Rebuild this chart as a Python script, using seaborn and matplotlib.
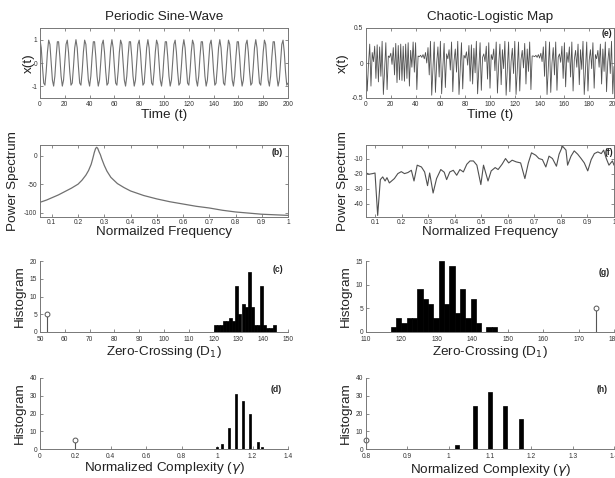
import numpy as np
import pandas as pd
import matplotlib
matplotlib.use("Agg")
import matplotlib.pyplot as plt
from matplotlib.ticker import FormatStrFormatter
import seaborn as sns

sns.set_style("ticks")
plt.rcParams['font.family'] = ['Liberation Sans', 'DejaVu Sans']
plt.rcParams['axes.unicode_minus'] = False
plt.rcParams['xtick.direction'] = 'in'
plt.rcParams['ytick.direction'] = 'in'

# DATA

time_steps = list(range(201))

# periodic sine-wave x(t)
sine_wave = [
    1.00, 0.65, -0.16, -0.86, -0.95, -0.37, 0.47, 0.98, 0.80, 0.05, -0.73, -0.99, -0.56, 0.27, 0.91,
    0.91, 0.27, -0.56, -0.99, -0.73, 0.05, 0.80, 0.98, 0.47, -0.37, -0.95, -0.86, -0.16, 0.65,
    1.00, 0.65, -0.16, -0.86, -0.95, -0.37, 0.47, 0.98, 0.80, 0.05, -0.73, -0.99, -0.56, 0.27, 0.91,
    0.91, 0.27, -0.56, -0.99, -0.73, 0.05, 0.80, 0.98, 0.47, -0.37, -0.95, -0.86, -0.16, 0.65,
    1.00, 0.65, -0.16, -0.86, -0.95, -0.37, 0.47, 0.98, 0.80, 0.05, -0.73, -0.99, -0.56, 0.27, 0.91,
    0.91, 0.27, -0.56, -0.99, -0.73, 0.05, 0.80, 0.98, 0.47, -0.37, -0.95, -0.86, -0.16, 0.65,
    1.00, 0.65, -0.16, -0.86, -0.95, -0.37, 0.47, 0.98, 0.80, 0.05, -0.73, -0.99, -0.56, 0.27, 0.91,
    0.91, 0.27, -0.56, -0.99, -0.73, 0.05, 0.80, 0.98, 0.47, -0.37, -0.95, -0.86, -0.16, 0.65,
    1.00, 0.65, -0.16, -0.86, -0.95, -0.37, 0.47, 0.98, 0.80, 0.05, -0.73, -0.99, -0.56, 0.27, 0.91,
    0.91, 0.27, -0.56, -0.99, -0.73, 0.05, 0.80, 0.98, 0.47, -0.37, -0.95, -0.86, -0.16, 0.65,
    1.00, 0.65, -0.16, -0.86, -0.95, -0.37, 0.47, 0.98, 0.80, 0.05, -0.73, -0.99, -0.56, 0.27, 0.91,
    0.91, 0.27, -0.56, -0.99, -0.73, 0.05, 0.80, 0.98, 0.47, -0.37, -0.95, -0.86, -0.16, 0.65,
    1.00, 0.65, -0.16, -0.86, -0.95, -0.37, 0.47, 0.98, 0.80, 0.05, -0.73, -0.99, -0.56, 0.27, 0.91,
    0.91, 0.27, -0.56, -0.99, -0.73, 0.05, 0.80, 0.98, 0.47, -0.37, -0.95, -0.86,
]

# chaotic logistic map x(t)
logistic_map = [
    0.05, -0.40, -0.02, 0.27, -0.33, 0.15, 0.02, 0.24, -0.22, 0.26,
    -0.27, 0.23, -0.19, 0.31, -0.45, -0.10, 0.29, -0.38, 0.10, 0.08,
    0.14, -0.02, 0.22, -0.17, 0.28, -0.28, 0.25, -0.24, 0.27, -0.25,
    0.24, -0.26, 0.27, -0.22, 0.29, -0.33, 0.18, -0.06, 0.30, -0.13,
    0.29, -0.38, 0.10, 0.09, 0.11, 0.08, 0.12, 0.06, 0.15, 0.00,
    0.22, -0.17, 0.31, -0.46, -0.08, 0.30, -0.42, 0.00, 0.23, -0.20,
    0.31, -0.44, -0.05, 0.28, -0.35, 0.13, 0.06, 0.19, -0.10, 0.30,
    -0.41, 0.03, 0.20, -0.13, 0.31, -0.45, -0.09, 0.29, -0.37, 0.11,
    0.07, 0.16, -0.03, 0.25, -0.26, 0.26, -0.30, 0.21, -0.14, 0.31,
    -0.44, -0.06, 0.29, -0.39, 0.08, 0.13, 0.02, 0.24, -0.23, 0.29,
    -0.36, 0.12, 0.05, 0.20, -0.11, 0.30, -0.43, -0.02, 0.27, -0.31,
    0.19, -0.08, 0.31, -0.46, -0.08, 0.30, -0.41, 0.02, 0.21, -0.15,
    0.31, -0.45, -0.10, 0.30, -0.40, 0.05, 0.18, -0.07, 0.28, -0.30,
    0.20, -0.12, 0.30, -0.38, 0.10, 0.10, 0.09, 0.11, 0.08, 0.12,
    0.07, 0.14, 0.02, 0.23, -0.19, 0.31, -0.45, -0.09, 0.30, -0.42,
    0.00, 0.22, -0.17, 0.30, -0.39, 0.08, 0.13, 0.01, 0.24, -0.22,
    0.29, -0.34, 0.15, 0.01, 0.23, -0.20, 0.30, -0.40, 0.05, 0.18,
    -0.06, 0.27, -0.31, 0.19, -0.09, 0.31, -0.45, -0.10, 0.30, -0.40,
    0.04, 0.19, -0.08, 0.29, -0.36, 0.12, 0.06, 0.18, -0.06, 0.27,
    -0.30, 0.20, -0.12, 0.30, -0.41, 0.02, 0.21, -0.15, 0.31, -0.44,
    -0.05,
]

# power spectra
sine_freq = [0.055, 0.08, 0.1, 0.125, 0.15, 0.175, 0.2, 0.215, 0.23, 0.24, 0.25, 0.256,
             0.262, 0.267, 0.271, 0.275, 0.28, 0.285, 0.29, 0.3, 0.31, 0.325, 0.35, 0.375,
             0.4, 0.45, 0.5, 0.55, 0.6, 0.65, 0.7, 0.75, 0.8, 0.85, 0.9, 0.95, 1.0]
sine_power = [-82, -78, -74, -69, -63, -57, -50, -43, -34, -26, -15, -5,
              6, 13, 15, 13, 7, 2, -5, -17, -27, -38, -49, -56,
              -62, -70, -76, -81, -85, -89, -92, -96, -99, -101, -103, -104, -105]

logistic_freq = [0.058, 0.071, 0.077, 0.090, 0.099, 0.109, 0.119, 0.128, 0.137, 0.144,
                 0.153, 0.172, 0.185, 0.198, 0.210, 0.223, 0.236, 0.246, 0.258, 0.274,
                 0.286, 0.297, 0.305, 0.318, 0.331, 0.347, 0.360, 0.369, 0.381, 0.394,
                 0.407, 0.419, 0.432, 0.445, 0.457, 0.470, 0.483, 0.498, 0.508, 0.525,
                 0.537, 0.552, 0.563, 0.578, 0.591, 0.603, 0.616, 0.631, 0.648, 0.664,
                 0.677, 0.689, 0.705, 0.717, 0.730, 0.743, 0.755, 0.768, 0.783, 0.793,
                 0.806, 0.819, 0.825, 0.838, 0.850, 0.863, 0.876, 0.888, 0.901, 0.914,
                 0.926, 0.939, 0.952, 0.961, 0.971, 0.981, 0.994, 1.0]
logistic_power = [-18.9, -20.0, -20.4, -20.0, -19.6, -47.8, -24.0, -22.2, -24.9, -22.7,
                  -26.2, -23.3, -20.0, -18.7, -20.0, -19.3, -17.8, -24.9, -14.4, -15.6,
                  -18.9, -28.0, -19.6, -32.9, -23.3, -17.3, -19.1, -24.0, -18.9, -17.8,
                  -21.1, -17.3, -18.9, -13.8, -11.6, -11.6, -14.4, -27.3, -14.4, -24.9,
                  -18.2, -16.0, -17.3, -13.8, -10.0, -12.9, -11.1, -12.2, -12.9, -23.3,
                  -12.9, -6.2, -7.8, -10.0, -10.7, -15.6, -8.4, -10.0, -15.1, -7.1,
                  -1.8, -4.4, -14.4, -8.4, -4.9, -7.1, -10.0, -12.9, -18.2, -10.7,
                  -6.7, -5.6, -6.7, -4.4, -10.0, -14.4, -11.6, -14.4]

# zero-crossing histograms (D1)
sine_zc_range = (120, 145)
sine_zc_counts = [2, 2, 2, 3, 3, 4, 3, 13, 5, 8, 7, 17, 7, 2, 2, 13, 2, 1, 1, 2]
sine_zc_outlier = (53, 5)

logistic_zc_range = (117, 147)
logistic_zc_counts = [1, 3, 2, 3, 3, 9, 7, 6, 3, 15, 6, 14, 4, 9, 3, 7, 2, 0, 1, 1]
logistic_zc_outlier = (175, 5)

# normalized complexity histograms (gamma)
sine_gamma_values = [1.0, 1.025, 1.067, 1.107, 1.147, 1.188, 1.228, 1.255]
sine_gamma_counts = [1, 3, 12, 31, 27, 20, 4, 1]
sine_gamma_outlier = (0.2, 5)

logistic_gamma_values = [1.02, 1.064, 1.1, 1.137, 1.175]
logistic_gamma_counts = [2, 24, 32, 24, 17]
logistic_gamma_outlier = (0.8, 5)

# FIGURE

W, H = 615, 478
fig = plt.figure(figsize=(W / 100, H / 100), dpi=100)


def add_axes(left, top, right, bottom):
    return fig.add_axes([left / W, 1 - bottom / H, (right - left) / W, (bottom - top) / H])


ax_a = add_axes(40, 28, 288, 98)
ax_e = add_axes(366, 28, 614, 98)
ax_b = add_axes(40, 145, 288, 216.5)
ax_f = add_axes(366, 145, 614, 216.5)
ax_c = add_axes(40, 261, 288, 332)
ax_g = add_axes(366, 261, 614, 332)
ax_d = add_axes(40, 378, 288, 449)
ax_h = add_axes(366, 378, 614, 449)

text_color = '#222222'
axis_color = '#777777'


def style_axes(ax, box=True):
    for side in ['top', 'right', 'left', 'bottom']:
        ax.spines[side].set_color(axis_color)
        ax.spines[side].set_linewidth(0.7)
    ax.tick_params(labelsize=4.8, length=2.5, width=0.6, pad=2,
                   color=axis_color, labelcolor='#333333',
                   top=box, right=box)
    if not box:
        ax.tick_params(axis='x', pad=3.2)
        sns.despine(ax=ax)


def set_labels(ax, xlabel, ylabel, x_pos, y_pos):
    ax.set_xlabel(xlabel, fontsize=9.7, color=text_color)
    ax.set_ylabel(ylabel, fontsize=9.7, color=text_color)
    ax.xaxis.set_label_coords(0.5, y_pos)
    ax.yaxis.set_label_coords(x_pos, 0.5)
    ax.xaxis.label.set_va('center')
    ax.yaxis.label.set_va('center')


def panel_tag(ax, tag, x, y):
    ax.text(x, y, tag, transform=ax.transAxes, fontsize=6.2, fontweight='bold',
            ha='right', va='top', color=text_color)


def draw_outlier(ax, point):
    markers, stems, base = ax.stem([point[0]], [point[1]], basefmt=' ')
    plt.setp(stems, color='#555555', linewidth=0.8)
    plt.setp(markers, color='#555555', markerfacecolor='white',
             markersize=3.5, markeredgewidth=0.7, clip_on=False)


def draw_hist(ax, value_range, counts):
    edges = np.linspace(value_range[0], value_range[1], len(counts) + 1)
    bins_df = pd.DataFrame({
        'center': (edges[:-1] + edges[1:]) / 2,
        'count': counts,
    })
    sns.histplot(data=bins_df, x='center', weights='count', bins=list(edges), ax=ax,
                 color='black', alpha=1, edgecolor='black', linewidth=0.5)


def draw_bars(ax, values, counts, width):
    ax.bar(values, counts, width=width, color='black', edgecolor='black', linewidth=0.5)


# (a) sine wave
sns.lineplot(x=time_steps, y=sine_wave, ax=ax_a, color='#707070', linewidth=0.8, estimator=None)
ax_a.set_xlim(0, 200)
ax_a.set_ylim(-1.5, 1.5)
ax_a.set_xticks(range(0, 201, 20))
ax_a.set_yticks([-1, 0, 1])
ax_a.set_title('Periodic Sine-Wave', fontsize=9.7, pad=6, color=text_color)
style_axes(ax_a)
set_labels(ax_a, 'Time (t)', 'x(t)', -0.045, -0.245)

# (e) logistic map
sns.lineplot(x=time_steps, y=logistic_map, ax=ax_e, color='#505050', linewidth=0.6, estimator=None)
ax_e.set_xlim(0, 200)
ax_e.set_ylim(-0.5, 0.5)
ax_e.set_xticks(range(0, 201, 20))
ax_e.set_yticks([-0.5, 0, 0.5])
ax_e.yaxis.set_major_formatter(FormatStrFormatter('%g'))
ax_e.set_title('Chaotic-Logistic Map', fontsize=9.7, pad=6, color=text_color)
style_axes(ax_e)
set_labels(ax_e, 'Time (t)', 'x(t)', -0.093, -0.245)
panel_tag(ax_e, '(e)', 0.992, 0.985)

# (b) sine spectrum
sns.lineplot(x=sine_freq, y=sine_power, ax=ax_b, color='#707070', linewidth=0.9, estimator=None)
ax_b.set_xlim(0.055, 1.0)
ax_b.set_ylim(-107, 19)
ax_b.set_xticks(np.arange(0.1, 1.01, 0.1))
ax_b.set_yticks([-100, -50, 0])
ax_b.xaxis.set_major_formatter(FormatStrFormatter('%g'))
style_axes(ax_b)
set_labels(ax_b, 'Normailzed Frequency', 'Power Spectrum', -0.11, -0.215)
panel_tag(ax_b, '(b)', 0.98, 0.96)

# (f) logistic spectrum
sns.lineplot(x=logistic_freq, y=logistic_power, ax=ax_f, color='#505050', linewidth=0.8, estimator=None)
ax_f.set_xlim(0.065, 1.0)
ax_f.set_ylim(-48.5, -1)
ax_f.set_xticks(np.arange(0.1, 1.01, 0.1))
ax_f.set_yticks([-40, -30, -20, -10])
ax_f.xaxis.set_major_formatter(FormatStrFormatter('%g'))
style_axes(ax_f)
set_labels(ax_f, 'Normalized Frequency', 'Power Spectrum', -0.093, -0.215)
panel_tag(ax_f, '(f)', 0.996, 0.96)

# (c) sine zero-crossing histogram
draw_hist(ax_c, sine_zc_range, sine_zc_counts)
draw_outlier(ax_c, sine_zc_outlier)
ax_c.set_xlim(50, 150)
ax_c.set_ylim(0, 20)
ax_c.set_xticks(range(50, 151, 10))
ax_c.set_yticks(range(0, 21, 5))
style_axes(ax_c, box=False)
set_labels(ax_c, r'Zero-Crossing (D$_1$)', 'Histogram', -0.081, -0.275)
panel_tag(ax_c, '(c)', 0.98, 0.94)

# (g) logistic zero-crossing histogram
draw_hist(ax_g, logistic_zc_range, logistic_zc_counts)
draw_outlier(ax_g, logistic_zc_outlier)
ax_g.set_xlim(110, 180)
ax_g.set_ylim(0, 15)
ax_g.set_xticks(range(110, 181, 10))
ax_g.set_yticks(range(0, 16, 5))
style_axes(ax_g, box=False)
set_labels(ax_g, r'Zero-Crossing (D$_1$)', 'Histogram', -0.081, -0.275)
panel_tag(ax_g, '(g)', 0.984, 0.90)

# (d) sine complexity histogram
draw_bars(ax_d, sine_gamma_values, sine_gamma_counts, 0.011)
draw_outlier(ax_d, sine_gamma_outlier)
ax_d.set_xlim(0, 1.4)
ax_d.set_ylim(0, 40)
ax_d.set_xticks(np.arange(0, 1.41, 0.2))
ax_d.set_yticks(range(0, 41, 10))
ax_d.xaxis.set_major_formatter(FormatStrFormatter('%g'))
style_axes(ax_d, box=False)
set_labels(ax_d, r'Normalized Complexity ($\gamma$)', 'Histogram', -0.081, -0.265)
panel_tag(ax_d, '(d)', 0.976, 0.90)

# (h) logistic complexity histogram
draw_bars(ax_h, logistic_gamma_values, logistic_gamma_counts, 0.009)
draw_outlier(ax_h, logistic_gamma_outlier)
ax_h.set_xlim(0.8, 1.4)
ax_h.set_ylim(0, 40)
ax_h.set_xticks(np.arange(0.8, 1.41, 0.1))
ax_h.set_yticks(range(0, 41, 10))
ax_h.xaxis.set_major_formatter(FormatStrFormatter('%g'))
style_axes(ax_h, box=False)
set_labels(ax_h, r'Normalized Complexity ($\gamma$)', 'Histogram', -0.081, -0.295)
panel_tag(ax_h, '(h)', 0.976, 0.90)

fig.savefig('out.png', dpi=100)
